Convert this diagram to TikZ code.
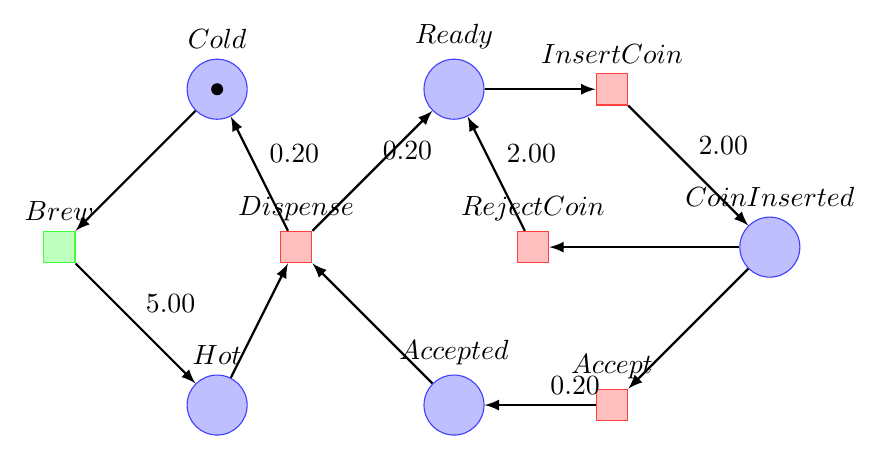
\documentclass[tikz,border=0pt]{standalone}
\usetikzlibrary{petri,arrows}

\begin{document}
\begin{tikzpicture}[node distance=2cm]
    \tikzset{
        myplace/.style = {circle, draw=blue!75, fill=blue!25, minimum size=7.6mm, inner sep=0pt},
        mytrans/.style = {rectangle, draw=red!75, fill=red!25, minimum size=4mm, inner sep=0pt},
        greentrans/.style = {mytrans, draw=green!75, fill=green!25},
        arrow/.style = {thick,-latex},
        weight/.style = {above right},
    }
    \useasboundingbox (-0.75,-2.58) rectangle (10.37,3.13);

    \node (brew) [greentrans, label=above:$Brew$] at (0,0) {};
    \node (dispense) [mytrans, right of=brew, xshift=1cm, label=above:$Dispense$] {};
    \node (rejectcoin) [mytrans, right of=dispense, xshift=1cm, label=above:$RejectCoin$] {};
    \node (coininserted) [myplace, right of=rejectcoin, xshift=1cm, label=above:$CoinInserted$] {};
    \node (cold) [myplace, tokens=1, above of=brew, xshift=2cm, label=above:$Cold$] {};
    \node (ready) [myplace, right of=cold, xshift=1cm, label=above:$Ready$] {};
    \node (insertcoin) [mytrans, right of=ready, label=above:$InsertCoin$] {};
    \node (hot) [myplace, below of=brew, xshift=2cm, label=above:$Hot$] {};
    \node (accepted) [myplace, right of=hot, xshift=1cm, label=above:$Accepted$] {};
    \node (accept) [mytrans, right of=accepted, label=above:$Accept$] {};

    \draw [arrow] (cold) -- (brew);
    \draw [arrow] (brew) -- node[weight] {5.00} (hot);
    \draw [arrow] (hot) -- (dispense);
    \draw [arrow] (dispense) -- node[weight] {0.20} (cold);
    \draw [arrow] (dispense) -- node[weight] {0.20} (ready);
    \draw [arrow] (ready) -- (insertcoin);
    \draw [arrow] (insertcoin) -- node[weight] {2.00} (coininserted);
    \draw [arrow] (coininserted) -- (rejectcoin);
    \draw [arrow] (rejectcoin) -- node[weight] {2.00} (ready);
    \draw [arrow] (coininserted) -- (accept);
    \draw [arrow] (accept) -- node[weight] {0.20} (accepted);
    \draw [arrow] (accepted) -- (dispense);
\end{tikzpicture}
\end{document}
